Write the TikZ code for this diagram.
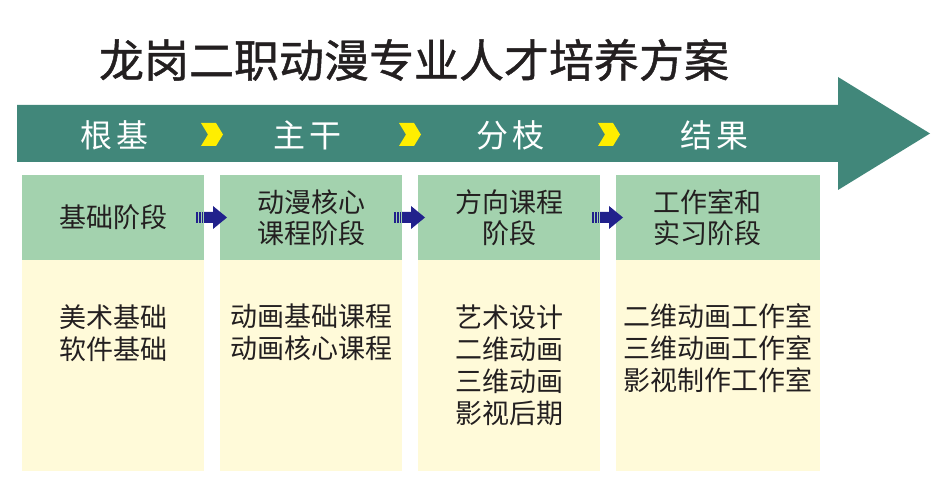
\documentclass[tikz,border=0pt]{standalone}
\usepackage{fontspec}
\newfontfamily\cjk{Noto Sans CJK SC}
\newfontfamily\cjkheavy[FakeBold=1]{Noto Sans CJK SC}
\usetikzlibrary{calc}
\definecolor{arrowgreen}{HTML}{41877A}
\definecolor{headgreen}{HTML}{A3D2AE}
\definecolor{bodycream}{HTML}{FFFAD9}
\definecolor{chevyellow}{HTML}{FFEE00}
\definecolor{darknavy}{HTML}{21218C}
\definecolor{ink}{HTML}{231F20}

\begin{document}
\begin{tikzpicture}[x=0.5pt,y=-0.5pt,
    head/.style={fill=headgreen,minimum width=91pt,minimum height=42.5pt,inner sep=0pt,
      align=center,text=ink,font=\cjk\fontsize{13.5}{15.75}\selectfont},
    body/.style={fill=bodycream,minimum width=91pt,minimum height=105.5pt,inner sep=0pt},
    wide/.style={minimum width=102pt},
    item/.style={align=center,inner sep=0pt,text=ink,font=\cjk\fontsize{13.5}{16}\selectfont},
    stage/.style={text=white,font=\cjk\fontsize{16}{19}\selectfont}]
        \useasboundingbox (0,0) rectangle (947,501);

        \node[text=ink,font=\cjkheavy\fontsize{22.5}{27}\selectfont] (title) at (414,60) {龙岗二职动漫专业人才培养方案};

        \fill[arrowgreen] (17,105) -- (838,105) -- (838,77) -- (930,133.5) -- (838,190) -- (838,162) -- (17,162) -- cycle;
        \foreach \x in {201,399,598}
          \fill[chevyellow] (\x,123) -- ++(15,0) -- ++(7,11.5) -- ++(-7,11.5) -- ++(-15,0) -- ++(7,-11.5) -- cycle;

        \node[stage] (root) at (114,135) {根\hspace{2pt}基};
        \node[stage] (trunk) at (307,135) {主\hspace{2pt}干};
        \node[stage] (branch) at (510,135) {分\hspace{2pt}枝};
        \node[stage] (fruit) at (714,135) {结\hspace{2pt}果};

        \node[head] (h1) at (113,217.5) {基础阶段};
        \node[head] (h2) at (311,217.5) {动漫核心\\课程阶段};
        \node[head] (h3) at (509,217.5) {方向课程\\阶段};
        \node[head,wide] (h4) at (718,217.5) {工作室和\hspace*{11pt}\\实习阶段\hspace*{11pt}};

        \node[body] (b1) at (113,365.5) {};
        \node[body] (b2) at (311,365.5) {};
        \node[body] (b3) at (509,365.5) {};
        \node[body,wide] (b4) at (718,365.5) {};

        \node[item] (c1) at (113,333) {美术基础\\软件基础};
        \node[item] (c2) at (311,332) {动画基础课程\\动画核心课程};
        \node[item] (c3) at (509,365) {艺术设计\\二维动画\\三维动画\\影视后期};
        \node[item] (c4) at (718,348) {二维动画工作室\\三维动画工作室\\影视制作工作室};

        \foreach \a/\b in {h1/h2,h2/h3,h3/h4} {
          \begin{scope}[shift={($(\a.east)!.5!(\b.west)$)}]
            \fill[darknavy] (-16,-5.5) rectangle (-14.2,5.5);
            \fill[darknavy] (-13.2,-5.5) rectangle (-11.4,5.5);
            \fill[darknavy] (-10.4,-5.5) rectangle (-8.6,5.5);
            \fill[darknavy] (-8,-5.5) -- (1,-5.5) -- (1,-11.5) -- (15,0) -- (1,11.5) -- (1,5.5) -- (-8,5.5) -- cycle;
          \end{scope}
        }
      \end{tikzpicture}
\end{document}
